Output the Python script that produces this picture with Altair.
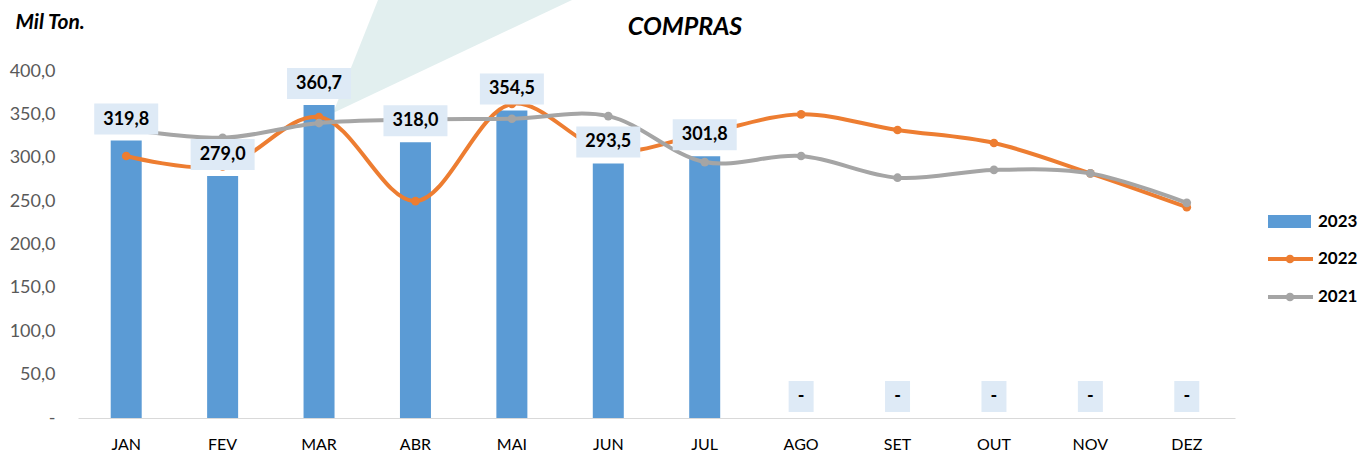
import altair as alt
import pandas as pd

months = ["JAN", "FEV", "MAR", "ABR", "MAI", "JUN", "JUL", "AGO", "SET", "OUT", "NOV", "DEZ"]
v2023 = [319.8, 279.0, 360.7, 318.0, 354.5, 293.5, 301.8, None, None, None, None, None]
v2022 = [302, 290, 347, 250, 362, 308, 328, 350, 332, 317, 282, 243]
v2021 = [333, 323, 340, 344, 345, 348, 295, 302, 277, 286, 282, 248]

C2023 = "#5b9bd5"
C2022 = "#ed7d31"
C2021 = "#a5a5a5"
BOX = "#deeaf6"
FONT = "Lato"

df = pd.DataFrame({"mes": months, "v2023": v2023, "v2022": v2022, "v2021": v2021})

PW, PH = 1157, 347
L, T = 78, 71

xenc = alt.X(
    "mes:N",
    sort=months,
    scale=alt.Scale(paddingInner=0, paddingOuter=0),
    axis=alt.Axis(
        title=None, ticks=False, domainColor="#d9d9d9", domainWidth=1.2,
        labelAngle=0, labelFont=FONT, labelFontSize=16, labelColor="black",
        labelPadding=18, grid=False,
    ),
)
yscale = alt.Scale(domain=[0, 400], nice=False)

base = alt.Chart(df)

# decorative background wedge
wedge = alt.Chart(pd.DataFrame({"k": [0]})).mark_point(
    shape="M300,-71L494,-71L255,42Z", size=4, filled=True, color="#e2efef",
    opacity=1, strokeWidth=0,
).encode(x=alt.value(0), y=alt.value(0))

bars = base.transform_filter("isValid(datum.v2023)").mark_bar(
    size=31, color=C2023
).encode(
    x=xenc,
    y=alt.Y(
        "v2023:Q", scale=yscale,
        axis=alt.Axis(
            values=[0, 50, 100, 150, 200, 250, 300, 350, 400],
            labelExpr="datum.value == 0 ? '-\u2007\u00a0' : replace(format(datum.value, '.1f'), '.', ',')",
            domain=False, ticks=False, grid=False, labelFont=FONT,
            labelFontSize=18, labelColor="#595959", labelPadding=23,
            title="Mil Ton.", titleAngle=0, titleX=-63, titleY=-43,
            titleAlign="left", titleBaseline="alphabetic", titleFont=FONT,
            titleFontSize=21, titleFontWeight="bold", titleFontStyle="italic",
            titleColor="black",
        ),
    ),
)

line22 = base.mark_line(
    interpolate="catmull-rom", strokeWidth=4, color=C2022,
    point=alt.OverlayMarkDef(filled=True, size=75, color=C2022),
).encode(x=xenc, y=alt.Y("v2022:Q", scale=yscale))

line21 = base.mark_line(
    interpolate="catmull-rom", strokeWidth=4, color=C2021,
    point=alt.OverlayMarkDef(filled=True, size=75, color=C2021),
).encode(x=xenc, y=alt.Y("v2021:Q", scale=yscale))

lab = base.transform_calculate(
    ypos="isValid(datum.v2023) ? datum.v2023 : 0",
    lbl="isValid(datum.v2023) ? replace(format(datum.v2023, '.1f'), '.', ',') : '-'",
)

box_val = lab.transform_filter("isValid(datum.v2023)").mark_point(
    shape="M-32,-15.5H32V15.5H-32Z", size=4, filled=True, color=BOX,
    opacity=1, strokeWidth=0, yOffset=-21.5,
).encode(x=xenc, y=alt.Y("ypos:Q", scale=yscale))

box_dash = lab.transform_filter("!isValid(datum.v2023)").mark_point(
    shape="M-12.5,-15.5H12.5V15.5H-12.5Z", size=4, filled=True, color=BOX,
    opacity=1, strokeWidth=0, yOffset=-21.5,
).encode(x=xenc, y=alt.Y("ypos:Q", scale=yscale))

txt = lab.mark_text(
    font=FONT, fontSize=18, fontWeight="bold", color="black",
    baseline="middle", align="center", yOffset=-21,
).encode(x=xenc, y=alt.Y("ypos:Q", scale=yscale), text="lbl:N")

one = alt.Chart(pd.DataFrame({"k": [0]}))

title = one.mark_text(
    text="COMPRAS", font=FONT, fontSize=25, fontWeight="bold", fontStyle="italic",
    color="black", align="center", baseline="alphabetic",
).encode(x=alt.value(685 - L), y=alt.value(35 - T))

# legend
leg_rect = one.mark_point(
    shape="M-21.5,-6.5H21.5V6.5H-21.5Z", size=4, filled=True, color=C2023,
    opacity=1, strokeWidth=0,
).encode(x=alt.value(1211.5), y=alt.value(150.5))
leg_l22 = one.mark_rule(color=C2022, strokeWidth=4).encode(
    x=alt.value(1190), x2=alt.value(1235), y=alt.value(188))
leg_p22 = one.mark_point(filled=True, size=75, color=C2022, opacity=1).encode(
    x=alt.value(1212), y=alt.value(188))
leg_l21 = one.mark_rule(color=C2021, strokeWidth=4).encode(
    x=alt.value(1190), x2=alt.value(1235), y=alt.value(226))
leg_p21 = one.mark_point(filled=True, size=75, color=C2021, opacity=1).encode(
    x=alt.value(1212), y=alt.value(226))

def legtext(t, y):
    return one.mark_text(
        text=t, font=FONT, fontSize=17, fontWeight="bold", color="black",
        align="left", baseline="middle",
    ).encode(x=alt.value(1240), y=alt.value(y))

chart = alt.layer(
    wedge, title, bars, line22, line21, box_val, box_dash, txt,
    leg_rect, leg_l22, leg_p22, leg_l21, leg_p21,
    legtext("2023", 151), legtext("2022", 188), legtext("2021", 226),
).properties(
    width=PW, height=PH,
    autosize=alt.AutoSizeParams(type="none"),
    padding={"left": L, "top": T, "right": 1359 - L - PW, "bottom": 453 - T - PH},
    background="white",
).configure_view(stroke=None)

chart.save("out.html", embed_options={"renderer": "svg", "actions": False})
